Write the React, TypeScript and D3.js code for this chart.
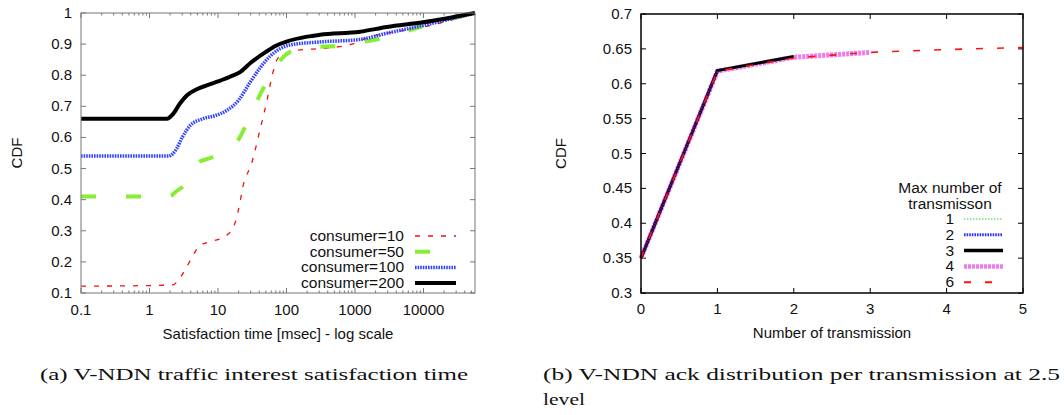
import React from "react";
import * as d3 from "d3";

// ---------- Left chart data (x in msec, log scale) ----------
const leftYTicks = [0.1, 0.2, 0.3, 0.4, 0.5, 0.6, 0.7, 0.8, 0.9, 1];
const leftXTicks = [0.1, 1, 10, 100, 1000, 10000];
const leftXTickLabels = ["0.1", "1", "10", "100", "1000", "10000"];

const consumer10: [number, number][] = [
  [0.1, 0.122], [1, 0.124], [2.2, 0.126], [2.6, 0.14], [3.3, 0.174], [4.3, 0.22], [5.5, 0.254],
  [8.5, 0.267], [13.5, 0.286], [17.7, 0.325], [20.9, 0.39], [23, 0.44], [31, 0.517], [41, 0.624],
  [52, 0.72], [63, 0.807], [75, 0.855], [100, 0.872], [142, 0.88], [385, 0.887], [900, 0.9],
  [1650, 0.923], [4000, 0.94], [10000, 0.955], [56500, 1],
];
const consumer50: [number, number][] = [
  [0.1, 0.41], [1, 0.41], [2.0, 0.412], [2.4, 0.425], [3.3, 0.45], [4.9, 0.517], [8, 0.535],
  [12.6, 0.553], [16.7, 0.576], [19.4, 0.59], [25, 0.635], [32, 0.688], [44, 0.75], [61, 0.807],
  [72, 0.833], [124, 0.88], [198, 0.89], [670, 0.894], [900, 0.9], [2931, 0.923], [8900, 0.955],
  [56500, 1],
];
const consumer100: [number, number][] = [
  [0.1, 0.54], [1, 0.54], [1.9, 0.54], [2.5, 0.565], [3, 0.6], [4, 0.64], [6, 0.66], [9, 0.67],
  [13, 0.685], [20, 0.72], [29, 0.775], [40, 0.82], [57, 0.86], [80, 0.885], [111, 0.897],
  [308, 0.907], [1183, 0.915], [2931, 0.935], [9840, 0.96], [56500, 1],
];
const consumer200: [number, number][] = [
  [0.1, 0.66], [1, 0.66], [1.8, 0.66], [2.2, 0.675], [2.8, 0.71], [3.5, 0.735], [4.9, 0.755],
  [7, 0.768], [10, 0.78], [15, 0.795], [21, 0.81], [30, 0.84], [50, 0.875], [70, 0.895],
  [100, 0.908], [200, 0.924], [308, 0.93], [1183, 0.94], [2931, 0.955], [9840, 0.97], [56500, 1],
];

// ---------- Right chart data ----------
const rightXTicks = [0, 1, 2, 3, 4, 5];
const rightYTicks = [0.3, 0.35, 0.4, 0.45, 0.5, 0.55, 0.6, 0.65, 0.7];
const rightYTickLabels = ["0.3", "0.35", "0.4", "0.45", "0.5", "0.55", "0.6", "0.65", "0.7"];
const maxTx1 = [0.35, 0.619];
const maxTx2 = [0.35, 0.619];
const maxTx3 = [0.35, 0.619, 0.639];
const maxTx4 = [0.35, 0.618, 0.638, 0.645];
const maxTx6 = [0.35, 0.618, 0.637, 0.645, 0.649, 0.652];

const SANS = "'Liberation Sans', Arial, sans-serif";
const SERIF = "'Liberation Serif', 'DejaVu Serif', serif";

function LeftChart() {
  const L = 81, R = 475, T = 13, B = 293;
  const x = d3.scaleLog().domain([0.1, 56500]).range([L, R]);
  const y = d3.scaleLinear().domain([0.1, 1]).range([B, T]);
  const line = d3
    .line<[number, number]>()
    .x((d) => x(d[0]))
    .y((d) => y(d[1]))
    .curve(d3.curveMonotoneX);

  const minor: number[] = [];
  for (let p = -1; p <= 4; p++) {
    for (let m = 2; m <= 9; m++) {
      const v = m * Math.pow(10, p);
      if (v < 56500) minor.push(v);
    }
  }
  const series = [
    { name: "consumer=10", data: consumer10, color: "#ee1111", w: 1.3, dash: "5,8" },
    { name: "consumer=50", data: consumer50, color: "#88ee33", w: 4, dash: "15,30" },
    { name: "consumer=100", data: consumer100, color: "#3344ff", w: 3.5, dash: "1.6,1" },
    { name: "consumer=200", data: consumer200, color: "#000000", w: 4, dash: undefined },
  ];
  const axisColor = "#777";
  return (
    <g>
      {leftYTicks.map((t) => (
        <g key={"yt" + t}>
          <line x1={L} x2={L + 5} y1={y(t)} y2={y(t)} stroke={axisColor} />
          <line x1={R} x2={R - 5} y1={y(t)} y2={y(t)} stroke={axisColor} />
          <text x={72} y={y(t) + 5} textAnchor="end" fontSize={15} fontFamily={SANS} fill="#111">
            {d3.format(".1~f")(t)}
          </text>
        </g>
      ))}
      {leftXTicks.map((t, i) => (
        <g key={"xt" + t}>
          <line x1={x(t)} x2={x(t)} y1={B} y2={B - 5} stroke={axisColor} />
          <line x1={x(t)} x2={x(t)} y1={T} y2={T + 5} stroke={axisColor} />
          <text x={x(t)} y={315} textAnchor="middle" fontSize={15} fontFamily={SANS} fill="#111">
            {leftXTickLabels[i]}
          </text>
        </g>
      ))}
      {minor.map((t) => (
        <g key={"mn" + t}>
          <line x1={x(t)} x2={x(t)} y1={B} y2={B - 2.5} stroke={axisColor} />
          <line x1={x(t)} x2={x(t)} y1={T} y2={T + 2.5} stroke={axisColor} />
        </g>
      ))}
      {series.map((s) => (
        <path
          key={s.name}
          d={line(s.data) || ""}
          fill="none"
          stroke={s.color}
          strokeWidth={s.w}
          strokeDasharray={s.dash}
        />
      ))}
      <rect x={L} y={T} width={R - L} height={B - T} fill="none" stroke={axisColor} strokeWidth={1} />
      {series.map((s, i) => {
        const ly = 236 + i * 15.7;
        return (
          <g key={"lg" + s.name}>
            <text x={404} y={ly + 5} textAnchor="end" fontSize={15.5} fontFamily={SANS} fill="#111">
              {s.name}
            </text>
            <line
              x1={415}
              x2={456}
              y1={ly}
              y2={ly}
              stroke={s.color}
              strokeWidth={s.w}
              strokeDasharray={s.dash}
            />
          </g>
        );
      })}
      <text
        transform={`translate(22,${(T + B) / 2}) rotate(-90)`}
        textAnchor="middle"
        fontSize={15}
        fontFamily={SANS}
        fill="#111"
      >
        CDF
      </text>
      <text x={278} y={339} textAnchor="middle" fontSize={15} fontFamily={SANS} fill="#111">
        Satisfaction time [msec] - log scale
      </text>
    </g>
  );
}

function RightChart() {
  const L = 641, R = 1023, T = 14, B = 293;
  const x = d3.scaleLinear().domain([0, 5]).range([L, R]);
  const y = d3.scaleLinear().domain([0.3, 0.7]).range([B, T]);
  const line = d3
    .line<number>()
    .x((_, i) => x(rightXTicks[i]))
    .y((d) => y(d));

  const series = [
    { name: "1", data: maxTx1, color: "#33cc33", w: 1, dash: "1.5,1.5" },
    { name: "4", data: maxTx4, color: "#f07af0", w: 5, dash: "3,1" },
    { name: "3", data: maxTx3, color: "#000000", w: 3, dash: undefined },
    { name: "2", data: maxTx2, color: "#551188", w: 3, dash: "1.6,1" },
    { name: "6", data: maxTx6, color: "#ff1111", w: 1.6, dash: "7,14" },
  ];
  const legendOrder = [
    { name: "1", color: "#33cc33", w: 1, dash: "1.5,1.5" },
    { name: "2", color: "#3333ff", w: 3, dash: "1.6,1" },
    { name: "3", color: "#000000", w: 3.5, dash: undefined },
    { name: "4", color: "#f07af0", w: 4.5, dash: "3,1" },
    { name: "6", color: "#ff1111", w: 2, dash: "7,14" },
  ];
  return (
    <g>
      {rightYTicks.map((t, i) => (
        <g key={"ryt" + t}>
          <line x1={L} x2={L + 5} y1={y(t)} y2={y(t)} stroke="#000" />
          <line x1={R} x2={R - 5} y1={y(t)} y2={y(t)} stroke="#000" />
          <text x={632} y={y(t) + 5} textAnchor="end" fontSize={15} fontFamily={SANS} fill="#111">
            {rightYTickLabels[i]}
          </text>
        </g>
      ))}
      {rightXTicks.map((t) => (
        <g key={"rxt" + t}>
          <line x1={x(t)} x2={x(t)} y1={B} y2={B - 5} stroke="#000" />
          <line x1={x(t)} x2={x(t)} y1={T} y2={T + 5} stroke="#000" />
          <text x={x(t)} y={314} textAnchor="middle" fontSize={15} fontFamily={SANS} fill="#111">
            {t}
          </text>
        </g>
      ))}
      {series.map((s) => (
        <path
          key={"rs" + s.name}
          d={line(s.data) || ""}
          fill="none"
          stroke={s.color}
          strokeWidth={s.w}
          strokeDasharray={s.dash}
        />
      ))}
      <rect x={L} y={T} width={R - L} height={B - T} fill="none" stroke="#000" strokeWidth={1.5} />
      <text x={950} y={193} textAnchor="middle" fontSize={15.5} fontFamily={SANS} fill="#111">
        Max number of
      </text>
      <text x={950} y={209} textAnchor="middle" fontSize={15.5} fontFamily={SANS} fill="#111">
        transmisson
      </text>
      {legendOrder.map((s, i) => {
        const ly = 219 + i * 15.8;
        return (
          <g key={"rl" + s.name}>
            <text x={954} y={ly + 5} textAnchor="end" fontSize={15.5} fontFamily={SANS} fill="#111">
              {s.name}
            </text>
            <line
              x1={964}
              x2={1003}
              y1={ly}
              y2={ly}
              stroke={s.color}
              strokeWidth={s.w}
              strokeDasharray={s.dash}
            />
          </g>
        );
      })}
      <text
        transform={`translate(566,${(T + B) / 2}) rotate(-90)`}
        textAnchor="middle"
        fontSize={15}
        fontFamily={SANS}
        fill="#111"
      >
        CDF
      </text>
      <text x={832} y={338} textAnchor="middle" fontSize={15} fontFamily={SANS} fill="#111">
        Number of transmission
      </text>
    </g>
  );
}

export default function App() {
  return (
    <svg
      width={1064}
      height={415}
      style={{ position: "absolute", left: 0, top: 0, background: "#fff" }}
    >
      <rect x={0} y={0} width={1064} height={415} fill="#fff" />
      <LeftChart />
      <RightChart />
      <text
        x={40}
        y={380}
        fontSize={17.5}
        fontFamily={SERIF}
        fill="#111"
        textLength={428}
        lengthAdjust="spacingAndGlyphs"
      >
        (a) V-NDN traffic interest satisfaction time
      </text>
      <text
        x={543}
        y={380}
        fontSize={17.5}
        fontFamily={SERIF}
        fill="#111"
        textLength={517}
        lengthAdjust="spacingAndGlyphs"
      >
        (b) V-NDN ack distribution per transmission at 2.5
      </text>
      <text
        x={543}
        y={405}
        fontSize={17.5}
        fontFamily={SERIF}
        fill="#111"
        textLength={42}
        lengthAdjust="spacingAndGlyphs"
      >
        level
      </text>
    </svg>
  );
}
